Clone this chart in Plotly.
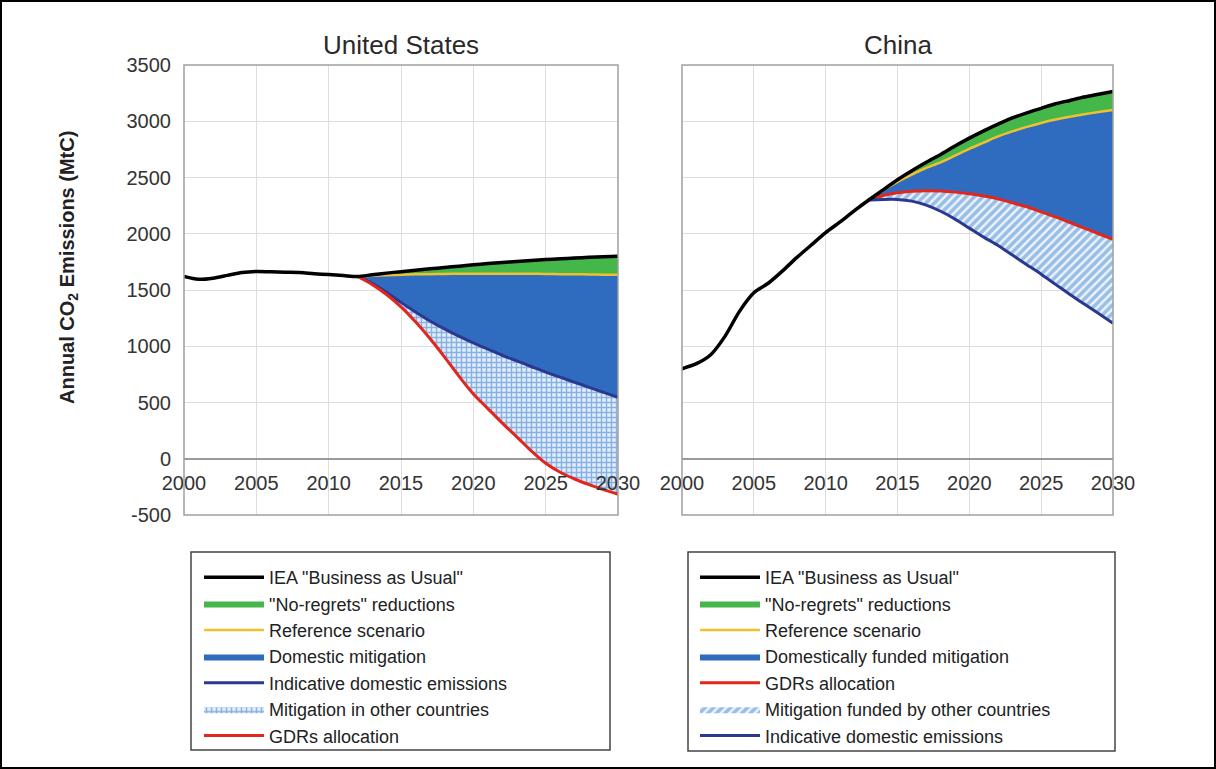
import plotly.graph_objects as go

# ---------------- data ----------------
years = list(range(2000, 2031))
us_proj_years = list(range(2012, 2031))
cn_proj_years = list(range(2013, 2031))

# United States (MtC)
us_bau = [1620, 1595, 1605, 1630, 1655, 1665, 1662, 1658, 1655, 1645, 1637, 1628, 1620,
          1635, 1650, 1663, 1675, 1688, 1700, 1712, 1724, 1735, 1745, 1754, 1762, 1770,
          1777, 1784, 1790, 1795, 1800]
us_reference = [1620, 1627, 1632, 1636, 1639, 1641, 1643, 1644, 1645, 1645, 1645, 1645,
                1644, 1643, 1641, 1640, 1638, 1636, 1635]
us_indicative = [1620, 1560, 1480, 1390, 1305, 1225, 1155, 1090, 1030, 975, 920, 870,
                 820, 770, 725, 680, 635, 590, 545]
us_gdrs = [1620, 1550, 1460, 1350, 1217, 1069, 906, 735, 576, 446, 317, 195, 70, -40,
           -120, -180, -230, -275, -315]

# China (MtC)
cn_bau = [800, 845, 925, 1090, 1310, 1475, 1560, 1670, 1790, 1900, 2010, 2105, 2205,
          2300, 2390, 2480, 2560, 2635, 2705, 2780, 2850, 2915, 2975, 3030, 3075, 3115,
          3155, 3185, 3215, 3240, 3265]
cn_reference = [2300, 2385, 2460, 2525, 2585, 2635, 2695, 2755, 2810, 2865, 2910, 2950,
                2985, 3015, 3040, 3062, 3082, 3100]
cn_gdrs = [2300, 2340, 2365, 2378, 2383, 2380, 2370, 2355, 2335, 2310, 2275, 2240, 2195,
           2150, 2100, 2050, 2000, 1950]
cn_indicative = [2300, 2305, 2305, 2290, 2255, 2200, 2130, 2050, 1970, 1895, 1810, 1725,
                 1640, 1550, 1460, 1375, 1290, 1205]

x_tick_vals = [2000, 2005, 2010, 2015, 2020, 2025, 2030]
x_tick_text = ["2000", "2005", "2010", "2015", "2020", "2025", "2030"]
y_tick_vals = [-500, 0, 500, 1000, 1500, 2000, 2500, 3000, 3500]
y_tick_text = ["-500", "0", "500", "1000", "1500", "2000", "2500", "3000", "3500"]

us_labels = ['IEA "Business as Usual"', '"No-regrets" reductions', 'Reference scenario',
             'Domestic mitigation', 'Indicative domestic emissions',
             'Mitigation in other countries', 'GDRs allocation']
cn_labels = ['IEA "Business as Usual"', '"No-regrets" reductions', 'Reference scenario',
             'Domestically funded mitigation', 'GDRs allocation',
             'Mitigation funded by other countries', 'Indicative domestic emissions']

# ---------------- styles ----------------
C_BAU = "#000000"
C_GREEN = "#45b649"
C_YELLOW = "#efc12f"
C_BLUE = "#2f6cc0"
C_NAVY = "#2b3890"
C_RED = "#e2261c"
FONT = "Liberation Sans, Arial, sans-serif"
W, H = 1216, 769

fig = go.Figure()


def add_band(x, lower, upper, name, xa, ya, leg, rank, fillcolor=None, pattern=None):
    fig.add_trace(go.Scatter(x=x, y=lower, mode="lines", xaxis=xa, yaxis=ya,
                             line=dict(width=0, shape="spline", smoothing=0.8),
                             showlegend=False, hoverinfo="skip"))
    kw = dict(fillcolor=fillcolor) if fillcolor else dict(fillpattern=pattern, fillcolor="white")
    fig.add_trace(go.Scatter(x=x, y=upper, mode="lines", xaxis=xa, yaxis=ya, fill="tonexty",
                             line=dict(width=0, shape="spline", smoothing=0.8),
                             name=name, legend=leg, legendrank=rank, **kw))


def add_line(x, y, name, color, width, xa, ya, leg, rank):
    fig.add_trace(go.Scatter(x=x, y=y, mode="lines", xaxis=xa, yaxis=ya, name=name,
                             line=dict(color=color, width=width, shape="spline", smoothing=0.8),
                             legend=leg, legendrank=rank))


# ---- United States ----
us_bau_proj = us_bau[12:]
add_band(us_proj_years, us_reference, us_bau_proj, us_labels[1], "x", "y", "legend", 2,
         fillcolor=C_GREEN)
add_band(us_proj_years, us_indicative, us_reference, us_labels[3], "x", "y", "legend", 4,
         fillcolor=C_BLUE)
add_band(us_proj_years, us_gdrs, us_indicative, us_labels[5], "x", "y", "legend", 6,
         pattern=dict(shape="+", fgcolor="#2a74d0", bgcolor="#e4eefa", size=5, solidity=0.5))
add_line(us_proj_years, us_reference, us_labels[2], C_YELLOW, 2.5, "x", "y", "legend", 3)
add_line(us_proj_years, us_indicative, us_labels[4], C_NAVY, 3, "x", "y", "legend", 5)
add_line(us_proj_years, us_gdrs, us_labels[6], C_RED, 3, "x", "y", "legend", 7)
add_line(years, us_bau, us_labels[0], C_BAU, 3.5, "x", "y", "legend", 1)

# ---- China ----
cn_bau_proj = cn_bau[13:]
add_band(cn_proj_years, cn_reference, cn_bau_proj, cn_labels[1], "x2", "y2", "legend2", 2,
         fillcolor=C_GREEN)
add_band(cn_proj_years, cn_gdrs, cn_reference, cn_labels[3], "x2", "y2", "legend2", 4,
         fillcolor=C_BLUE)
add_band(cn_proj_years, cn_indicative, cn_gdrs, cn_labels[5], "x2", "y2", "legend2", 6,
         pattern=dict(shape="/", fgcolor="#4387cf", bgcolor="#eef4fb", size=6, solidity=0.6))
add_line(cn_proj_years, cn_reference, cn_labels[2], C_YELLOW, 2.5, "x2", "y2", "legend2", 3)
add_line(cn_proj_years, cn_gdrs, cn_labels[4], C_RED, 3, "x2", "y2", "legend2", 5)
add_line(cn_proj_years, cn_indicative, cn_labels[6], C_NAVY, 3, "x2", "y2", "legend2", 7)
add_line(years, cn_bau, cn_labels[0], C_BAU, 3.5, "x2", "y2", "legend2", 1)

# ---------------- layout ----------------
y_dom = [1 - 515 / H, 1 - 65 / H]
y_lo, y_hi = -500, 3500
zero_pos = y_dom[0] + (0 - y_lo) / (y_hi - y_lo) * (y_dom[1] - y_dom[0])

axis_font = dict(family=FONT, size=20, color="#333333")
grid = dict(showgrid=True, gridcolor="#dedede", gridwidth=1)

xcommon = dict(range=[2000, 2030], tickvals=x_tick_vals, ticktext=x_tick_text,
               anchor="free", position=zero_pos, showline=False, zeroline=False,
               ticks="", tickfont=axis_font, ticklabelstandoff=10, fixedrange=True,
               automargin=False, **grid)
ycommon = dict(range=[y_lo, y_hi], domain=y_dom, tickvals=y_tick_vals, ticktext=y_tick_text,
               zeroline=True, zerolinecolor="#9a9a9a", zerolinewidth=1.5, showline=False,
               ticks="", tickfont=axis_font, ticklabelstandoff=12, fixedrange=True,
               automargin=False, **grid)

legend_common = dict(xanchor="left", yanchor="top", bgcolor="rgba(0,0,0,0)", borderwidth=0,
                     font=dict(family=FONT, size=18, color="#222222"), traceorder="normal",
                     itemwidth=60, tracegroupgap=0, itemclick=False, itemdoubleclick=False)

fig.update_layout(
    width=W, height=H, autosize=False,
    margin=dict(l=0, r=0, t=0, b=0, pad=0, autoexpand=False),
    paper_bgcolor="white", plot_bgcolor="white",
    showlegend=True,
    xaxis=dict(domain=[184 / W, 618 / W], **xcommon),
    xaxis2=dict(domain=[682 / W, 1113 / W], **xcommon),
    yaxis=dict(anchor="x", **ycommon),
    yaxis2=dict(anchor="x2", matches="y", showticklabels=False,
                **{k: v for k, v in ycommon.items() if k not in ("tickfont",)}),
    legend=dict(x=199 / W, y=1 - 559 / H, **legend_common),
    legend2=dict(x=695 / W, y=1 - 559 / H, **legend_common),
    font=dict(family=FONT),
    annotations=[
        dict(text="United States", x=(184 + 618) / 2 / W, y=1 - 45 / H, xref="paper", yref="paper",
             xanchor="center", yanchor="middle", showarrow=False,
             font=dict(family=FONT, size=26, color="#2a2a2a")),
        dict(text="China", x=(682 + 1113) / 2 / W, y=1 - 45 / H, xref="paper", yref="paper",
             xanchor="center", yanchor="middle", showarrow=False,
             font=dict(family=FONT, size=26, color="#2a2a2a")),
        dict(text="<b>Annual CO<sub>2</sub> Emissions (MtC)</b>", x=68 / W, y=1 - 268 / H,
             xref="paper", yref="paper", xanchor="center", yanchor="middle",
             showarrow=False, textangle=-90,
             font=dict(family=FONT, size=20, color="#222222")),
    ],
    shapes=[
        dict(type="rect", xref="x domain", yref="y domain", x0=0, x1=1, y0=0, y1=1,
             line=dict(color="#a0a0a0", width=1.5), layer="above"),
        dict(type="rect", xref="x2 domain", yref="y2 domain", x0=0, x1=1, y0=0, y1=1,
             line=dict(color="#a0a0a0", width=1.5), layer="above"),
        dict(type="rect", xref="paper", yref="paper", x0=191 / W, x1=610 / W,
             y0=1 - 750 / H, y1=1 - 552 / H, line=dict(color="#444444", width=1.5)),
        dict(type="rect", xref="paper", yref="paper", x0=688 / W, x1=1115 / W,
             y0=1 - 751 / H, y1=1 - 552 / H, line=dict(color="#444444", width=1.5)),
        dict(type="rect", xref="paper", yref="paper", x0=1 / W, x1=1 - 1 / W,
             y0=1 / H, y1=1 - 1 / H, line=dict(color="#000000", width=2)),
    ],
)

fig.write_html("out.html")
